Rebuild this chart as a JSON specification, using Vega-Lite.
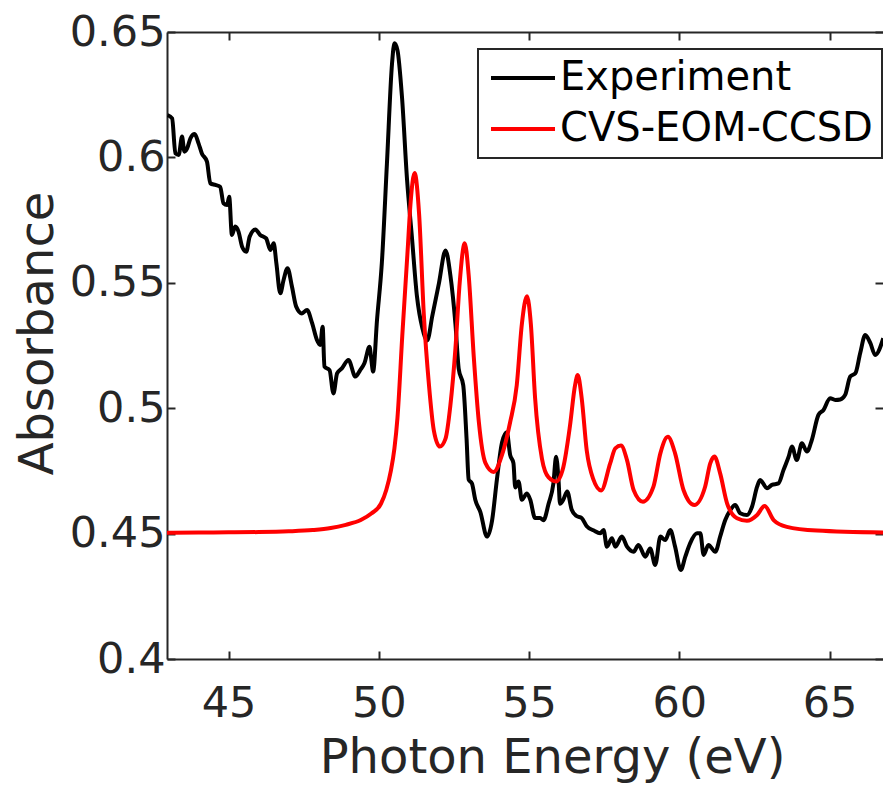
{
  "$schema": "https://vega.github.io/schema/vega-lite/v6.json",
  "width": 716,
  "height": 627,
  "autosize": {"type": "none"},
  "padding": {"left": 167, "top": 32, "right": 0, "bottom": 129},
  "background": "white",
  "config": {
    "view": {"stroke": null},
    "font": "DejaVu Sans",
    "legend": {"strokeWidth": 2},
    "axis": {"grid": false, "domainColor": "#262626", "tickColor": "#262626", "labelColor": "#262626", "titleColor": "#262626", "domainWidth": 2, "tickWidth": 2, "labelFont": "DejaVu Sans", "titleFont": "DejaVu Sans", "titleFontWeight": "normal"}
  },
  "datasets": {
    "exp": [
      {"series":"Experiment","E":42.97,"A":0.6169},{"series":"Experiment","E":43.12,"A":0.6156},{"series":"Experiment","E":43.23,"A":0.6016},{"series":"Experiment","E":43.34,"A":0.6010},{"series":"Experiment","E":43.45,"A":0.6083},{"series":"Experiment","E":43.53,"A":0.6023},{"series":"Experiment","E":43.62,"A":0.6036},{"series":"Experiment","E":43.73,"A":0.6076},{"series":"Experiment","E":43.87,"A":0.6093},{"series":"Experiment","E":44.00,"A":0.6056},{"series":"Experiment","E":44.11,"A":0.6016},{"series":"Experiment","E":44.28,"A":0.5983},{"series":"Experiment","E":44.39,"A":0.5897},{"series":"Experiment","E":44.56,"A":0.5890},{"series":"Experiment","E":44.72,"A":0.5883},{"series":"Experiment","E":44.83,"A":0.5817},{"series":"Experiment","E":44.95,"A":0.5810},{"series":"Experiment","E":45.02,"A":0.5843},{"series":"Experiment","E":45.11,"A":0.5691},{"series":"Experiment","E":45.22,"A":0.5724},{"series":"Experiment","E":45.33,"A":0.5704},{"series":"Experiment","E":45.45,"A":0.5644},{"series":"Experiment","E":45.59,"A":0.5624},{"series":"Experiment","E":45.70,"A":0.5684},{"series":"Experiment","E":45.89,"A":0.5713},{"series":"Experiment","E":46.05,"A":0.5691},{"series":"Experiment","E":46.25,"A":0.5677},{"series":"Experiment","E":46.39,"A":0.5631},{"series":"Experiment","E":46.50,"A":0.5658},{"series":"Experiment","E":46.59,"A":0.5578},{"series":"Experiment","E":46.72,"A":0.5458},{"series":"Experiment","E":46.83,"A":0.5511},{"series":"Experiment","E":46.96,"A":0.5558},{"series":"Experiment","E":47.11,"A":0.5484},{"series":"Experiment","E":47.25,"A":0.5405},{"series":"Experiment","E":47.44,"A":0.5378},{"series":"Experiment","E":47.61,"A":0.5392},{"series":"Experiment","E":47.78,"A":0.5339},{"series":"Experiment","E":47.94,"A":0.5272},{"series":"Experiment","E":48.05,"A":0.5252},{"series":"Experiment","E":48.13,"A":0.5325},{"series":"Experiment","E":48.19,"A":0.5166},{"series":"Experiment","E":48.36,"A":0.5152},{"series":"Experiment","E":48.49,"A":0.5059},{"series":"Experiment","E":48.61,"A":0.5139},{"series":"Experiment","E":48.77,"A":0.5159},{"series":"Experiment","E":48.99,"A":0.5192},{"series":"Experiment","E":49.22,"A":0.5126},{"series":"Experiment","E":49.38,"A":0.5152},{"series":"Experiment","E":49.52,"A":0.5179},{"series":"Experiment","E":49.69,"A":0.5245},{"series":"Experiment","E":49.74,"A":0.5205},{"series":"Experiment","E":49.81,"A":0.5146},{"series":"Experiment","E":49.94,"A":0.5352},{"series":"Experiment","E":50.10,"A":0.5578},{"series":"Experiment","E":50.27,"A":0.5976},{"series":"Experiment","E":50.44,"A":0.6375},{"series":"Experiment","E":50.52,"A":0.6455},{"series":"Experiment","E":50.62,"A":0.6428},{"series":"Experiment","E":50.77,"A":0.6242},{"series":"Experiment","E":50.94,"A":0.5910},{"series":"Experiment","E":51.10,"A":0.5684},{"series":"Experiment","E":51.27,"A":0.5445},{"series":"Experiment","E":51.45,"A":0.5319},{"series":"Experiment","E":51.61,"A":0.5270},{"series":"Experiment","E":51.78,"A":0.5368},{"series":"Experiment","E":52.00,"A":0.5498},{"series":"Experiment","E":52.22,"A":0.5629},{"series":"Experiment","E":52.38,"A":0.5531},{"series":"Experiment","E":52.55,"A":0.5335},{"series":"Experiment","E":52.66,"A":0.5156},{"series":"Experiment","E":52.81,"A":0.5091},{"series":"Experiment","E":52.92,"A":0.4879},{"series":"Experiment","E":52.99,"A":0.4716},{"series":"Experiment","E":53.10,"A":0.4700},{"series":"Experiment","E":53.21,"A":0.4635},{"series":"Experiment","E":53.38,"A":0.4586},{"series":"Experiment","E":53.60,"A":0.4488},{"series":"Experiment","E":53.77,"A":0.4553},{"series":"Experiment","E":53.93,"A":0.4716},{"series":"Experiment","E":54.10,"A":0.4863},{"series":"Experiment","E":54.26,"A":0.4904},{"series":"Experiment","E":54.37,"A":0.4814},{"series":"Experiment","E":54.48,"A":0.4781},{"series":"Experiment","E":54.54,"A":0.4684},{"series":"Experiment","E":54.65,"A":0.4708},{"series":"Experiment","E":54.76,"A":0.4635},{"series":"Experiment","E":54.93,"A":0.4660},{"series":"Experiment","E":55.04,"A":0.4635},{"series":"Experiment","E":55.20,"A":0.4562},{"series":"Experiment","E":55.37,"A":0.4562},{"series":"Experiment","E":55.48,"A":0.4553},{"series":"Experiment","E":55.65,"A":0.4619},{"series":"Experiment","E":55.81,"A":0.4700},{"series":"Experiment","E":55.90,"A":0.4806},{"series":"Experiment","E":55.98,"A":0.4716},{"series":"Experiment","E":56.03,"A":0.4619},{"series":"Experiment","E":56.14,"A":0.4635},{"series":"Experiment","E":56.27,"A":0.4668},{"series":"Experiment","E":56.42,"A":0.4595},{"series":"Experiment","E":56.58,"A":0.4570},{"series":"Experiment","E":56.75,"A":0.4562},{"series":"Experiment","E":56.92,"A":0.4529},{"series":"Experiment","E":57.14,"A":0.4513},{"series":"Experiment","E":57.37,"A":0.4501},{"series":"Experiment","E":57.48,"A":0.4514},{"series":"Experiment","E":57.59,"A":0.4448},{"series":"Experiment","E":57.76,"A":0.4481},{"series":"Experiment","E":57.87,"A":0.4448},{"series":"Experiment","E":58.09,"A":0.4488},{"series":"Experiment","E":58.26,"A":0.4448},{"series":"Experiment","E":58.48,"A":0.4428},{"series":"Experiment","E":58.64,"A":0.4455},{"series":"Experiment","E":58.87,"A":0.4408},{"series":"Experiment","E":59.03,"A":0.4441},{"series":"Experiment","E":59.20,"A":0.4375},{"series":"Experiment","E":59.37,"A":0.4488},{"series":"Experiment","E":59.53,"A":0.4474},{"series":"Experiment","E":59.70,"A":0.4514},{"series":"Experiment","E":59.86,"A":0.4448},{"series":"Experiment","E":60.05,"A":0.4355},{"series":"Experiment","E":60.20,"A":0.4408},{"series":"Experiment","E":60.36,"A":0.4461},{"series":"Experiment","E":60.59,"A":0.4501},{"series":"Experiment","E":60.70,"A":0.4501},{"series":"Experiment","E":60.81,"A":0.4415},{"series":"Experiment","E":60.97,"A":0.4455},{"series":"Experiment","E":61.20,"A":0.4428},{"series":"Experiment","E":61.36,"A":0.4488},{"series":"Experiment","E":61.53,"A":0.4554},{"series":"Experiment","E":61.70,"A":0.4594},{"series":"Experiment","E":61.86,"A":0.4614},{"series":"Experiment","E":62.03,"A":0.4581},{"series":"Experiment","E":62.25,"A":0.4574},{"series":"Experiment","E":62.42,"A":0.4607},{"series":"Experiment","E":62.59,"A":0.4687},{"series":"Experiment","E":62.69,"A":0.4714},{"series":"Experiment","E":62.92,"A":0.4681},{"series":"Experiment","E":63.08,"A":0.4694},{"series":"Experiment","E":63.30,"A":0.4700},{"series":"Experiment","E":63.47,"A":0.4754},{"series":"Experiment","E":63.64,"A":0.4807},{"series":"Experiment","E":63.75,"A":0.4847},{"series":"Experiment","E":63.91,"A":0.4793},{"series":"Experiment","E":64.08,"A":0.4860},{"series":"Experiment","E":64.25,"A":0.4827},{"series":"Experiment","E":64.41,"A":0.4873},{"series":"Experiment","E":64.63,"A":0.4973},{"series":"Experiment","E":64.80,"A":0.4993},{"series":"Experiment","E":65.02,"A":0.5040},{"series":"Experiment","E":65.19,"A":0.5033},{"series":"Experiment","E":65.36,"A":0.5035},{"series":"Experiment","E":65.52,"A":0.5053},{"series":"Experiment","E":65.69,"A":0.5126},{"series":"Experiment","E":65.86,"A":0.5139},{"series":"Experiment","E":66.02,"A":0.5219},{"series":"Experiment","E":66.19,"A":0.5292},{"series":"Experiment","E":66.36,"A":0.5259},{"series":"Experiment","E":66.52,"A":0.5212},{"series":"Experiment","E":66.79,"A":0.5279}
    ],
    "calc": [
      {"series":"CVS-EOM-CCSD","E":42.95,"A":0.4503},{"series":"CVS-EOM-CCSD","E":44.0,"A":0.4504},{"series":"CVS-EOM-CCSD","E":45.0,"A":0.4505},{"series":"CVS-EOM-CCSD","E":46.0,"A":0.4506},{"series":"CVS-EOM-CCSD","E":47.0,"A":0.4509},{"series":"CVS-EOM-CCSD","E":47.8,"A":0.4514},{"series":"CVS-EOM-CCSD","E":48.4,"A":0.4522},{"series":"CVS-EOM-CCSD","E":48.9,"A":0.4535},{"series":"CVS-EOM-CCSD","E":49.4,"A":0.4554},{"series":"CVS-EOM-CCSD","E":49.75,"A":0.4580},{"series":"CVS-EOM-CCSD","E":50.07,"A":0.4619},{"series":"CVS-EOM-CCSD","E":50.25,"A":0.4675},{"series":"CVS-EOM-CCSD","E":50.4,"A":0.4750},{"series":"CVS-EOM-CCSD","E":50.52,"A":0.4840},{"series":"CVS-EOM-CCSD","E":50.62,"A":0.4961},{"series":"CVS-EOM-CCSD","E":50.78,"A":0.5287},{"series":"CVS-EOM-CCSD","E":50.95,"A":0.5612},{"series":"CVS-EOM-CCSD","E":51.06,"A":0.5824},{"series":"CVS-EOM-CCSD","E":51.19,"A":0.5938},{"series":"CVS-EOM-CCSD","E":51.34,"A":0.5775},{"series":"CVS-EOM-CCSD","E":51.50,"A":0.5368},{"series":"CVS-EOM-CCSD","E":51.67,"A":0.5091},{"series":"CVS-EOM-CCSD","E":51.83,"A":0.4912},{"series":"CVS-EOM-CCSD","E":52.03,"A":0.4847},{"series":"CVS-EOM-CCSD","E":52.22,"A":0.4879},{"series":"CVS-EOM-CCSD","E":52.38,"A":0.5010},{"series":"CVS-EOM-CCSD","E":52.55,"A":0.5238},{"series":"CVS-EOM-CCSD","E":52.69,"A":0.5498},{"series":"CVS-EOM-CCSD","E":52.86,"A":0.5658},{"series":"CVS-EOM-CCSD","E":52.99,"A":0.5531},{"series":"CVS-EOM-CCSD","E":53.16,"A":0.5205},{"series":"CVS-EOM-CCSD","E":53.33,"A":0.4944},{"series":"CVS-EOM-CCSD","E":53.55,"A":0.4781},{"series":"CVS-EOM-CCSD","E":53.82,"A":0.4746},{"series":"CVS-EOM-CCSD","E":54.10,"A":0.4814},{"series":"CVS-EOM-CCSD","E":54.37,"A":0.4944},{"series":"CVS-EOM-CCSD","E":54.59,"A":0.5091},{"series":"CVS-EOM-CCSD","E":54.76,"A":0.5335},{"series":"CVS-EOM-CCSD","E":54.93,"A":0.5446},{"series":"CVS-EOM-CCSD","E":55.06,"A":0.5335},{"series":"CVS-EOM-CCSD","E":55.20,"A":0.5042},{"series":"CVS-EOM-CCSD","E":55.43,"A":0.4798},{"series":"CVS-EOM-CCSD","E":55.65,"A":0.4724},{"series":"CVS-EOM-CCSD","E":55.90,"A":0.4708},{"series":"CVS-EOM-CCSD","E":56.14,"A":0.4765},{"series":"CVS-EOM-CCSD","E":56.36,"A":0.4928},{"series":"CVS-EOM-CCSD","E":56.53,"A":0.5091},{"series":"CVS-EOM-CCSD","E":56.62,"A":0.5132},{"series":"CVS-EOM-CCSD","E":56.75,"A":0.5042},{"series":"CVS-EOM-CCSD","E":56.92,"A":0.4831},{"series":"CVS-EOM-CCSD","E":57.14,"A":0.4716},{"series":"CVS-EOM-CCSD","E":57.40,"A":0.4672},{"series":"CVS-EOM-CCSD","E":57.70,"A":0.4780},{"series":"CVS-EOM-CCSD","E":57.87,"A":0.4840},{"series":"CVS-EOM-CCSD","E":58.06,"A":0.4851},{"series":"CVS-EOM-CCSD","E":58.26,"A":0.4793},{"series":"CVS-EOM-CCSD","E":58.48,"A":0.4674},{"series":"CVS-EOM-CCSD","E":58.79,"A":0.4627},{"series":"CVS-EOM-CCSD","E":59.14,"A":0.4687},{"series":"CVS-EOM-CCSD","E":59.37,"A":0.4820},{"series":"CVS-EOM-CCSD","E":59.62,"A":0.4886},{"series":"CVS-EOM-CCSD","E":59.86,"A":0.4820},{"series":"CVS-EOM-CCSD","E":60.14,"A":0.4674},{"series":"CVS-EOM-CCSD","E":60.50,"A":0.4614},{"series":"CVS-EOM-CCSD","E":60.86,"A":0.4687},{"series":"CVS-EOM-CCSD","E":61.03,"A":0.4780},{"series":"CVS-EOM-CCSD","E":61.17,"A":0.4807},{"series":"CVS-EOM-CCSD","E":61.36,"A":0.4740},{"series":"CVS-EOM-CCSD","E":61.59,"A":0.4621},{"series":"CVS-EOM-CCSD","E":61.92,"A":0.4561},{"series":"CVS-EOM-CCSD","E":62.25,"A":0.4551},{"series":"CVS-EOM-CCSD","E":62.59,"A":0.4574},{"series":"CVS-EOM-CCSD","E":62.84,"A":0.4610},{"series":"CVS-EOM-CCSD","E":63.14,"A":0.4554},{"series":"CVS-EOM-CCSD","E":63.58,"A":0.4527},{"series":"CVS-EOM-CCSD","E":64.58,"A":0.4512},{"series":"CVS-EOM-CCSD","E":66.79,"A":0.4504}
    ]
  },
  "layer": [
    {
      "data": {"name": "exp"},
      "mark": {"type": "line", "strokeWidth": 4, "interpolate": "monotone", "clip": true},
      "encoding": {
        "x": {"field": "E", "type": "quantitative",
              "scale": {"domain": [42.95, 66.78], "nice": false, "zero": false},
              "axis": {"orient": "bottom", "values": [45, 50, 55, 60, 65], "tickSize": -8, "labelPadding": 65, "labelBaseline": "alphabetic", "labelFontSize": 43, "title": "Photon Energy (eV)", "titleFontSize": 48, "titleX": 385, "titleY": 113, "titleBaseline": "alphabetic", "titleAlign": "center"}},
        "y": {"field": "A", "type": "quantitative",
              "scale": {"domain": [0.4, 0.65], "nice": false, "zero": false},
              "axis": {"orient": "left", "values": [0.4, 0.45, 0.5, 0.55, 0.6, 0.65], "format": "~g", "tickSize": -8, "labelPadding": 10, "labelFontSize": 43, "labelBaseline": "middle", "title": "Absorbance", "titleFontSize": 48, "titleAngle": -90, "titleX": -115, "titleY": 301, "titleBaseline": "alphabetic", "titleAlign": "center"}},
        "color": {"field": "series", "type": "nominal",
                  "scale": {"domain": ["Experiment", "CVS-EOM-CCSD"], "range": ["#000000", "#ff0000"]},
                  "legend": {"title": null, "orient": "none", "legendX": 311, "legendY": 17, "direction": "vertical", "labelFontSize": 40, "labelLimit": 0, "labelColor": "#000000", "labelFont": "DejaVu Sans", "symbolType": "M-1,0H3", "symbolSize": 1024, "symbolStrokeWidth": 4, "labelOffset": 33, "rowPadding": 11, "padding": 9, "strokeColor": "#262626", "fillColor": "white"}}
      }
    },
    {
      "data": {"name": "calc"},
      "mark": {"type": "line", "strokeWidth": 4, "interpolate": "monotone", "clip": true},
      "encoding": {
        "x": {"field": "E", "type": "quantitative",
              "axis": {"orient": "top", "values": [45, 50, 55, 60, 65], "tickSize": -8, "labels": false, "title": null}},
        "y": {"field": "A", "type": "quantitative",
              "axis": {"orient": "right", "values": [0.4, 0.45, 0.5, 0.55, 0.6, 0.65], "tickSize": -8, "labels": false, "title": null, "domain": false}},
        "color": {"field": "series", "type": "nominal"}
      }
    }
  ],
  "resolve": {"axis": {"x": "independent", "y": "independent"}}
}
